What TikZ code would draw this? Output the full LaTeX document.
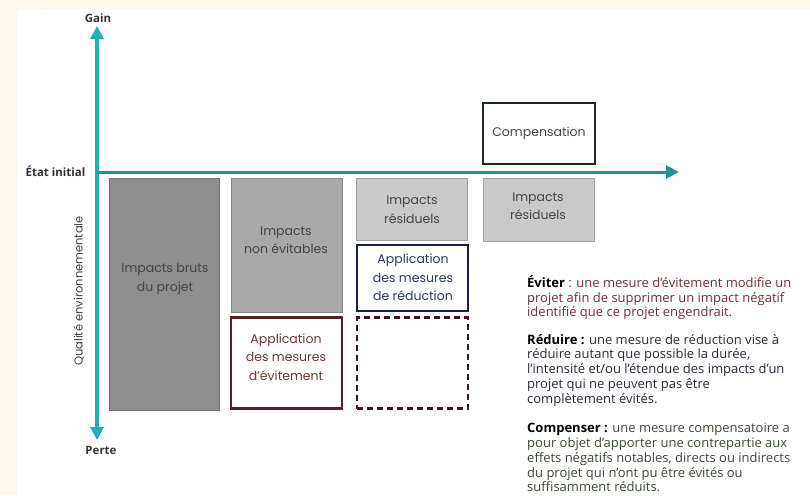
\documentclass[tikz,border=0pt]{standalone}
\usepackage{fontspec}
\setmainfont{Open Sans}
\newfontfamily\boxfont{Poppins}
\newfontfamily\axfont{Open Sans}
\usetikzlibrary{arrows.meta}
\definecolor{cream}{HTML}{FDF8EC}
\definecolor{axteal}{HTML}{22B0B2}
\definecolor{gA}{HTML}{8E8E8E}
\definecolor{gB}{HTML}{A9A9A9}
\definecolor{gC}{HTML}{C9C9C9}
\definecolor{gtxt}{HTML}{454545}
\definecolor{evbord}{HTML}{5C1F26}
\definecolor{evtxt}{HTML}{6E3838}
\definecolor{redbord}{HTML}{16203A}
\definecolor{redtxt}{HTML}{2F3A55}
\definecolor{compbord}{HTML}{1C2A1F}
\definecolor{comptxt}{HTML}{3E4A42}
\definecolor{dashbord}{HTML}{3A1520}
\definecolor{defev}{HTML}{7A2A3A}
\definecolor{defred}{HTML}{2B2B38}
\definecolor{defcomp}{HTML}{3D4A38}
\tikzset{
  shadedbox/.style={draw=#1!80!black, line width=0.6pt, fill=#1, inner sep=0pt},
  framebox/.style={draw=#1, line width=2.2pt, fill=white, inner sep=0pt},
  btxt/.style={align=center, font=\boxfont\fontsize{12.5}{18.5}\selectfont, text=gtxt},
  axlbl/.style={font=\axfont\bfseries\fontsize{11.5}{13}\selectfont, text=black!80},
  deftxt/.style={anchor=north west, align=left, inner sep=0pt, font=\fontsize{13}{14.8}\selectfont},
  axis/.style={draw=axteal, -{Triangle[width=13pt,length=13pt]}}
}
\begin{document}
\begin{tikzpicture}[x=1pt,y=-1pt]
\fill[cream] (0,0) rectangle (810,495);
\fill[white] (17,9) rectangle (810,495);
\useasboundingbox (0,0) rectangle (810,495);

% axes
\coordinate (origin) at (97,172);
\coordinate (top) at (97,26);
\coordinate (bottom) at (97,440);
\coordinate (right) at (679,172);
\draw[axis, line width=4pt] (origin) -- (top);
\draw[axis, line width=4pt] (origin) -- (bottom);
\draw[axis, line width=3pt, draw=axteal!85!black] (origin) -- (right);

\node[axlbl] (gain) at (98,18) {Gain};
\node[axlbl] (perte) at (101,450) {Perte};
\node[axlbl, anchor=east] (etat) at (89,171) {État initial};
\node[font=\boxfont\fontsize{11.5}{13}\selectfont, text=black!75, rotate=90] (qual) at (79,291) {Qualité environnementale};

% boxes
\node[shadedbox=gA, minimum width=110pt, minimum height=232pt] (brut) at (164,294) {};
\node[shadedbox=gB, minimum width=111pt, minimum height=134pt] (nonev) at (286.5,245) {};
\node[framebox=evbord, minimum width=111pt, minimum height=91pt] (evit) at (286.5,363) {};
\node[shadedbox=gC, minimum width=111pt, minimum height=62pt] (resid1) at (412,209) {};
\node[framebox=redbord, minimum width=111pt, minimum height=66pt] (reduc) at (412.5,278) {};
\node[framebox=dashbord, dash pattern=on 6pt off 4pt, minimum width=111pt, minimum height=91pt] (dash) at (412.5,363) {};
\node[shadedbox=gC, minimum width=111pt, minimum height=63pt] (resid2) at (538.5,209.5) {};
\node[framebox=compbord, minimum width=112pt, minimum height=61pt] (comp) at (539,133.5) {};

% box texts
\node[btxt] (tbrut) at (165,279) {Impacts bruts\\du projet};
\node[btxt] (tnonev) at (286,240) {Impacts\\non évitables};
\node[btxt, text=evtxt] (tevit) at (286,357) {Application\\des mesures\\d’évitement};
\node[btxt] (tresid1) at (412,209.5) {Impacts\\résiduels};
\node[btxt, text=redtxt] (treduc) at (413,277.5) {Application\\des mesures\\de réduction};
\node[btxt] (tresid2) at (538,206) {Impacts\\résiduels};
\node[btxt, text=comptxt] (tcomp) at (539,133) {Compensation};

% definitions
\begin{scope}
\clip (0,0) rectangle (810,495);
\node[deftxt, text=defev] (dev) at (527,275) {\textbf{\color{black}Éviter} : une mesure d’évitement modifie un\\projet afin de supprimer un impact négatif\\identifié que ce projet engendrait.};
\node[deftxt, text=defred] (dred) at (527,334) {\textbf{\color{black}Réduire :} une mesure de réduction vise à\\réduire autant que possible la durée,\\l’intensité et/ou l’étendue des impacts d’un\\projet qui ne peuvent pas être\\complètement évités.};
\node[deftxt, text=defcomp] (dcomp) at (527,423) {\textbf{\color{black}Compenser :} une mesure compensatoire a\\pour objet d’apporter une contrepartie aux\\effets négatifs notables, directs ou indirects\\du projet qui n’ont pu être évités ou\\suffisamment réduits.};
\end{scope}
\end{tikzpicture}
\end{document}
